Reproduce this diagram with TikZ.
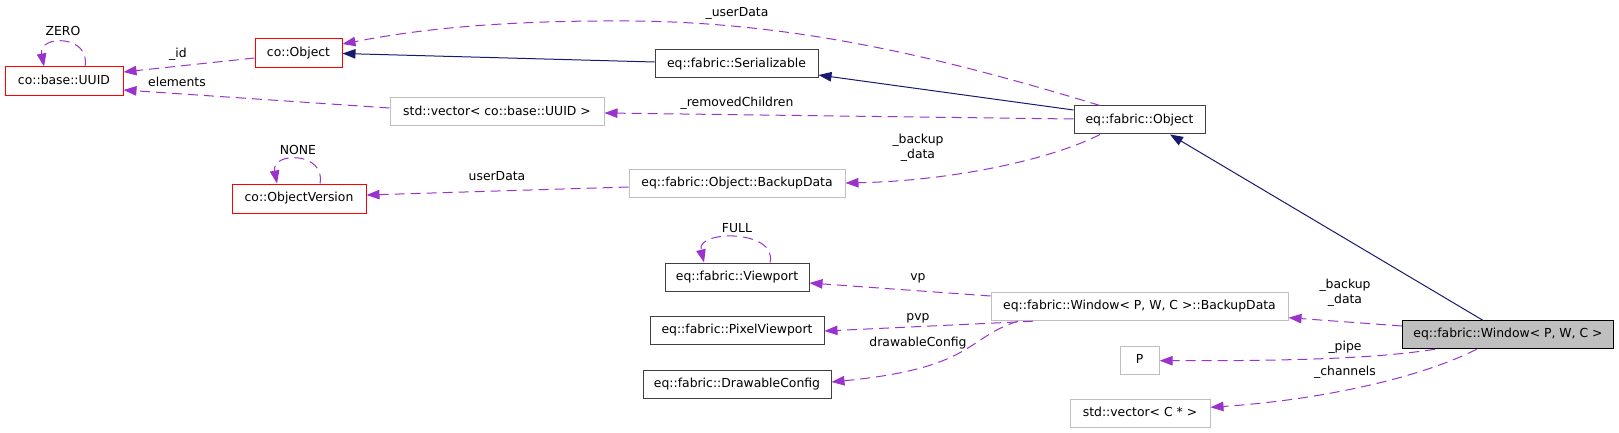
\documentclass[tikz,border=0pt]{standalone}
\usepackage{fontspec}
\setmainfont{DejaVu Sans}
\usetikzlibrary{arrows.meta}
\definecolor{depc}{HTML}{9A32CD}
\definecolor{inhc}{HTML}{191970}
\definecolor{docb}{HTML}{404040}
\definecolor{undoc}{HTML}{BFBFBF}
\begin{document}
\begin{tikzpicture}[x=1pt,y=-1pt,
  font=\fontsize{12.4}{15}\selectfont,
  box/.style={draw, line width=1pt, inner sep=0pt, anchor=center, text height=9pt, text depth=2.5pt},
  redbox/.style={box, draw=red},
  docbox/.style={box, draw=docb},
  graybox/.style={box, draw=undoc},
  depline/.style={draw=depc, line width=1pt, dash pattern=on 10pt off 6pt, -{Triangle[length=13pt,width=9.5pt,fill=depc]}},
  inhline/.style={draw=inhc, line width=1pt, -{Triangle[length=13pt,width=9.5pt,fill=inhc]}},
  lbl/.style={inner sep=0pt, anchor=center, text height=9pt, text depth=2.5pt}
]
\useasboundingbox (0,0) rectangle (1619,433);
% nodes
\node[redbox, minimum width=118pt, minimum height=29pt] (uuid) at (64,81.5) {co::base::UUID};
\node[redbox, minimum width=87pt, minimum height=29pt] (coobj) at (298.5,53.5) {co::Object};
\node[graybox, minimum width=214pt, minimum height=28pt] (vecuuid) at (497,112) {std::vector< co::base::UUID >};
\node[redbox, minimum width=134pt, minimum height=29pt] (objver) at (299,198.5) {co::ObjectVersion};
\node[docbox, minimum width=163pt, minimum height=28pt] (serial) at (736.5,64) {eq::fabric::Serializable};
\node[docbox, minimum width=131pt, minimum height=28pt] (fobj) at (1139.5,120) {eq::fabric::Object};
\node[graybox, minimum width=216pt, minimum height=28pt] (objbackup) at (737,183) {eq::fabric::Object::BackupData};
\node[docbox, minimum width=144pt, minimum height=28pt] (viewport) at (737,277) {eq::fabric::Viewport};
\node[docbox, minimum width=174pt, minimum height=28pt] (pixvp) at (737,330) {eq::fabric::PixelViewport};
\node[docbox, minimum width=188pt, minimum height=28pt] (drawcfg) at (737,384) {eq::fabric::DrawableConfig};
\node[graybox, minimum width=297pt, minimum height=28pt] (winbackup) at (1139.5,306.7) {eq::fabric::Window< P, W, C >::BackupData};
\node[box, draw=black, fill=undoc, minimum width=211pt, minimum height=28pt] (window) at (1508,334.7) {eq::fabric::Window< P, W, C >};
\node[graybox, minimum width=39pt, minimum height=28pt] (P) at (1139.7,360) {P};
\node[graybox, minimum width=140pt, minimum height=28pt] (vecC) at (1140,413) {std::vector< C * >};
% inheritance
\draw[inhline] ([yshift=2pt]serial.west) -- (coobj.east);
\draw[inhline] ([yshift=10pt]fobj.west) -- ([yshift=-11pt]serial.east);
\draw[inhline] ([xshift=-25.3pt]window.north) -- ([xshift=30.5pt]fobj.south);
% dependencies
\draw[depline] ([xshift=21pt]uuid.north) .. controls +(6,-32) and +(-6,-32) .. ([xshift=-20pt]uuid.north);
\draw[depline] ([xshift=21pt]objver.north) .. controls +(6,-32) and +(-6,-32) .. ([xshift=-22pt]objver.north);
\draw[depline] ([xshift=33pt]viewport.north) .. controls +(8,-33) and +(-8,-33) .. ([xshift=-33pt]viewport.north);
\draw[depline] ([xshift=-39.5pt]fobj.north) .. controls (950,60) and (800,22) .. (630,21) .. controls (480,20) and (400,33) .. ([yshift=9.5pt]coobj.east);
\draw[depline] ([yshift=-4.5pt]coobj.west) -- ([yshift=9.5pt]uuid.east);
\draw[depline] ([yshift=4pt]vecuuid.west) -- ([yshift=-8.5pt]uuid.east);
\draw[depline] ([yshift=1pt]fobj.west) -- ([yshift=-1pt]vecuuid.east);
\draw[depline] ([xshift=-39.5pt]fobj.south) .. controls (1050,160) and (950,181) .. (objbackup.east);
\draw[depline] ([yshift=-4pt]objbackup.west) -- ([yshift=3.5pt]objver.east);
\draw[depline] ([yshift=10.7pt]winbackup.west) -- ([yshift=-6pt]viewport.east);
\draw[depline] ([xshift=-106.5pt]winbackup.south) -- ([yshift=-1pt]pixvp.east);
\draw[depline] ([xshift=-121.5pt]winbackup.south) .. controls (965,338) and (975,368) .. ([yshift=2pt]drawcfg.east);
\draw[depline] ([yshift=8.7pt]window.west) -- ([yshift=-11pt]winbackup.east);
\draw[depline] ([xshift=-73pt]window.south) .. controls (1380,358) and (1300,361) .. ([yshift=-0.7pt]P.east);
\draw[depline] ([xshift=-31.3pt]window.south) .. controls (1420,378) and (1320,400) .. ([yshift=5.7pt]vecC.east);
% labels
\node[lbl] (lzero) at (63,32) {ZERO};
\node[lbl] (lid) at (178,54) {\_id};
\node[lbl] (lelem) at (177,83) {elements};
\node[lbl] (luser) at (737,13) {\_userData};
\node[lbl] (lrem) at (737,103) {\_removedChildren};
\node[lbl] (lnone) at (298,151) {NONE};
\node[lbl] (luserdata) at (497,177) {userData};
\node[lbl, align=center] (lbk1) at (918,155) {\_backup\\\_data};
\node[lbl] (lfull) at (737,229) {FULL};
\node[lbl] (lvp) at (918,277) {vp};
\node[lbl] (lpvp) at (918,317) {pvp};
\node[lbl] (ldc) at (918,343) {drawableConfig};
\node[lbl, align=center] (lbk2) at (1345,300) {\_backup\\\_data};
\node[lbl] (lpipe) at (1345,347) {\_pipe};
\node[lbl] (lchan) at (1345,372.5) {\_channels};
\end{tikzpicture}
\end{document}
